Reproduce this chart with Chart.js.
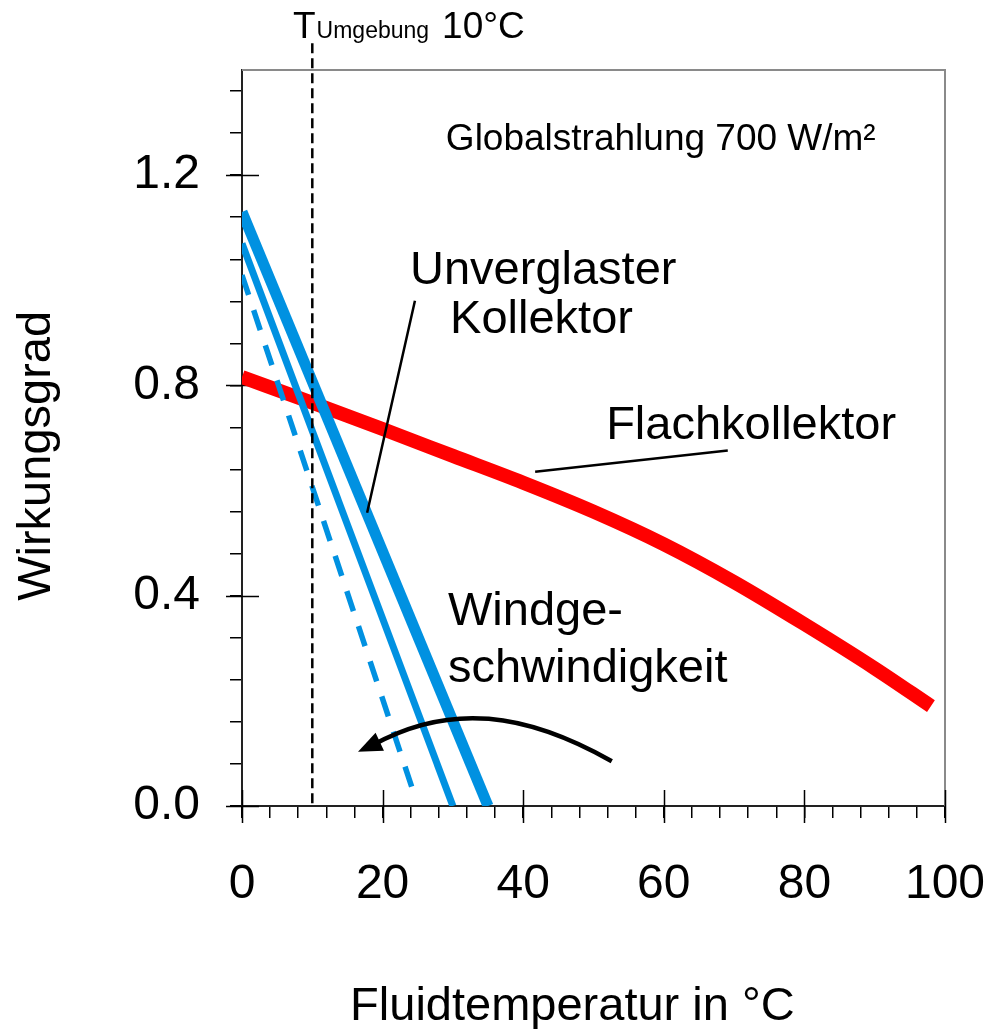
<!DOCTYPE html>
<html>
<head>
<meta charset="utf-8">
<script src="https://cdn.jsdelivr.net/npm/chart.js@4.4.0/dist/chart.umd.min.js"></script>
<style>
html, body { margin: 0; padding: 0; background: #fff; }
#wrap { width: 988px; height: 1029px; }
</style>
</head>
<body>
<div id="wrap"><canvas id="myChart" width="988" height="1029"></canvas></div>
<script>
// Flachkollektor: Wirkungsgrad über Fluidtemperatur
const flatTemps = [0, 10, 20, 30, 40, 50, 60, 70, 80, 90, 98];
const flatEff = [0.816, 0.767, 0.717, 0.666, 0.615, 0.56, 0.498, 0.426, 0.346, 0.262, 0.19];

// unverglaster Kollektor bei drei Windgeschwindigkeiten
const unglazedLowTemps = [0, 35];
const unglazedLowEff = [1.13, 0];
const unglazedMidTemps = [0, 30];
const unglazedMidEff = [1.07, 0];
const unglazedHighTemps = [0, 24.3];
const unglazedHighEff = [1.01, 0.03];

// Umgebungstemperatur
const ambientTemp = 10;
const ambientLineEff = [0.005, 1.455];

const xTicks = [0, 20, 40, 60, 80, 100];
const yTicks = [0.0, 0.4, 0.8, 1.2];

const BLUE = '#0091e1';
const RED = '#ff0000';
const FONT = "'Liberation Sans', Arial, Helvetica, sans-serif";

Chart.defaults.font.family = FONT;
Chart.defaults.color = '#000';

const pts = (xs, ys) => xs.map((v, i) => ({x: v, y: ys[i]}));
const isMajor = (v, list) => list.some(t => Math.abs(t - v) < 1e-6);

const annotations = {
  id: 'annotations',
  beforeDatasetsDraw(chart) {
    const {ctx, chartArea: a} = chart;
    ctx.save();
    ctx.strokeStyle = '#8a8a8a';
    ctx.lineWidth = 2;
    ctx.beginPath();
    ctx.moveTo(a.left, a.top);
    ctx.lineTo(a.right, a.top);
    ctx.lineTo(a.right, a.bottom);
    ctx.stroke();
    // major ticks crossing the axes
    const {x, y} = chart.scales;
    ctx.strokeStyle = '#000';
    ctx.lineWidth = 1.5;
    ctx.beginPath();
    xTicks.forEach(v => {
      const p = Math.round(x.getPixelForValue(v)) + 0.5;
      ctx.moveTo(p, a.bottom - 16);
      ctx.lineTo(p, a.bottom + 17);
    });
    yTicks.forEach(v => {
      const p = Math.round(y.getPixelForValue(v)) + 0.5;
      ctx.moveTo(a.left - 16, p);
      ctx.lineTo(a.left + 17, p);
    });
    ctx.stroke();
    ctx.restore();
  },
  afterDatasetsDraw(chart) {
    const {ctx} = chart;
    const {x, y} = chart.scales;
    const px = v => x.getPixelForValue(v);
    const py = v => y.getPixelForValue(v);
    ctx.save();
    ctx.fillStyle = '#000';
    ctx.strokeStyle = '#000';
    ctx.textBaseline = 'alphabetic';

    const text = (s, xv, yv, size, align) => {
      ctx.font = size + 'px ' + FONT;
      ctx.textAlign = align || 'left';
      ctx.fillText(s, px(xv), py(yv));
    };

    // T_Umgebung 10°C
    let tx = px(7.25);
    const ty = py(1.46);
    ctx.textAlign = 'left';
    ctx.font = '37px ' + FONT;
    ctx.fillText('T', tx, ty);
    tx += ctx.measureText('T').width + 1;
    ctx.font = '23px ' + FONT;
    ctx.fillText('Umgebung', tx, ty);
    tx += ctx.measureText('Umgebung').width + 13;
    ctx.font = '37px ' + FONT;
    ctx.fillText('10°C', tx, ty);

    text('Globalstrahlung 700 W/m²', 29.0, 1.247, 37);
    text('Unverglaster', 23.9, 0.993, 47);
    text('Kollektor', 29.6, 0.900, 47);
    text('Flachkollektor', 51.8, 0.699, 47);
    text('Windge-', 29.3, 0.344, 47);
    text('schwindigkeit', 29.3, 0.235, 47);

    // leader lines
    ctx.lineWidth = 2.5;
    ctx.beginPath();
    ctx.moveTo(px(24.6), py(0.961));
    ctx.lineTo(px(17.8), py(0.558));
    ctx.moveTo(px(41.7), py(0.636));
    ctx.lineTo(px(69.1), py(0.676));
    ctx.stroke();

    // curved arrow (Windgeschwindigkeit)
    ctx.lineWidth = 4.5;
    ctx.beginPath();
    ctx.moveTo(px(52.6), py(0.085));
    ctx.bezierCurveTo(px(40.3), py(0.178), px(29.6), py(0.197), px(18.6), py(0.116));
    ctx.stroke();
    const tipX = px(16.5), tipY = py(0.103);
    const bx = px(18.6), by = py(0.116);
    const dx = tipX - bx, dy = tipY - by;
    const len = Math.hypot(dx, dy);
    const ux = dx / len, uy = dy / len;
    const headLen = 24, half = 10;
    const baseX = tipX - ux * headLen, baseY = tipY - uy * headLen;
    ctx.beginPath();
    ctx.moveTo(tipX, tipY);
    ctx.lineTo(baseX - uy * half, baseY + ux * half);
    ctx.lineTo(baseX + uy * half, baseY - ux * half);
    ctx.closePath();
    ctx.fill();

    // axis titles
    ctx.font = '47px ' + FONT;
    ctx.textAlign = 'center';
    ctx.fillText('Fluidtemperatur in °C', px(47), chart.height - 9);
    ctx.save();
    ctx.translate(50, py(0.666));
    ctx.rotate(-Math.PI / 2);
    ctx.fillText('Wirkungsgrad', 0, 0);
    ctx.restore();

    ctx.restore();
  }
};

const ctx = document.getElementById('myChart').getContext('2d');
const chart = new Chart(ctx, {
  type: 'scatter',
  data: {
    datasets: [
      {
        label: 'T Umgebung',
        data: pts([ambientTemp, ambientTemp], ambientLineEff),
        showLine: true, borderColor: '#000', borderWidth: 2.5,
        borderDash: [10, 5], pointRadius: 0, clip: false, order: 0
      },
      {
        label: 'Unverglaster Kollektor (Wind 1)',
        data: pts(unglazedLowTemps, unglazedLowEff),
        showLine: true, borderColor: BLUE, borderWidth: 11,
        borderCapStyle: 'butt', pointRadius: 0, order: 1
      },
      {
        label: 'Unverglaster Kollektor (Wind 2)',
        data: pts(unglazedMidTemps, unglazedMidEff),
        showLine: true, borderColor: BLUE, borderWidth: 7,
        borderCapStyle: 'butt', pointRadius: 0, order: 1
      },
      {
        label: 'Unverglaster Kollektor (Wind 3)',
        data: pts(unglazedHighTemps, unglazedHighEff),
        showLine: true, borderColor: BLUE, borderWidth: 5.5,
        borderDash: [21, 16], borderCapStyle: 'butt', pointRadius: 0, order: 1
      },
      {
        label: 'Flachkollektor',
        data: pts(flatTemps, flatEff),
        showLine: true, borderColor: RED, borderWidth: 14,
        cubicInterpolationMode: 'monotone', pointRadius: 0, order: 2
      }
    ]
  },
  options: {
    responsive: false,
    animation: false,
    devicePixelRatio: 1,
    layout: { padding: { top: 70, right: 43, left: 0, bottom: 0 } },
    plugins: { legend: { display: false }, tooltip: { enabled: false } },
    scales: {
      x: {
        type: 'linear', min: 0, max: 100,
        afterFit: s => { s.height = 223; s.paddingLeft = 0; s.paddingRight = 0; },
        ticks: {
          stepSize: 4, autoSkip: false, maxRotation: 0, includeBounds: false,
          padding: 38, color: '#000', font: { size: 48 },
          callback: v => isMajor(v, xTicks) ? String(Math.round(v)) : ''
        },
        grid: { drawOnChartArea: false, tickLength: 12, color: '#000', lineWidth: 1.5 },
        border: { color: '#222', width: 2 }
      },
      y: {
        type: 'linear', min: 0, max: 1.4,
        afterFit: s => { s.width = 242; s.paddingTop = 0; s.paddingBottom = 0; },
        ticks: {
          stepSize: 0.08, autoSkip: false, includeBounds: false,
          padding: 30, color: '#000', font: { size: 48 },
          callback: v => isMajor(v, yTicks) ? v.toFixed(1) : ''
        },
        grid: { drawOnChartArea: false, tickLength: 12, color: '#000', lineWidth: 1.5 },
        border: { color: '#222', width: 2 }
      }
    }
  },
  plugins: [annotations]
});
</script>
</body>
</html>
